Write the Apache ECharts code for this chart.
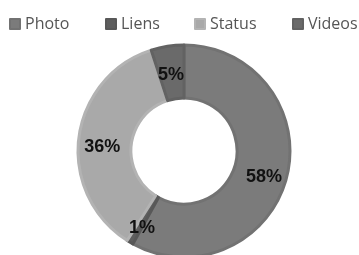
<!DOCTYPE html>
<html>
<head>
<meta charset="utf-8">
<script src="https://cdn.jsdelivr.net/npm/echarts@6/dist/echarts.min.js"></script>
<style>
  html, body { margin: 0; padding: 0; background: #fff; }
  #chart { width: 359px; height: 255px; }
</style>
</head>
<body>
<div id="chart"></div>
<script>
  // données du graphique
  var categories = ['Photo', 'Liens', 'Status', 'Videos'];
  var values = [58, 1, 36, 5];
  var colors = ['#7b7b7b', '#5e5e5e', '#a9a9a9', '#6a6a6a'];
  var borders = ['#727272', '#585858', '#b3b3b3', '#626262'];
  var legendLeft = [9, 105, 194, 292];

  var myChart = echarts.init(document.getElementById('chart'));

  var legends = categories.map(function (name, i) {
    return {
      data: [name],
      left: legendLeft[i],
      top: 16,
      padding: 0,
      itemWidth: 10,
      itemHeight: 10,
      icon: 'rect',
      selectedMode: false,
      textStyle: {
        fontFamily: 'Open Sans',
        fontSize: 16,
        color: '#555'
      }
    };
  });

  myChart.setOption({
    animation: false,
    color: colors,
    legend: legends,
    series: [{
      type: 'pie',
      center: [184, 151],
      radius: [53, 106],
      startAngle: 90,
      clockwise: true,
      label: {
        show: true,
        position: 'inside',
        formatter: '{c}%',
        fontFamily: 'Liberation Sans',
        fontWeight: 'bold',
        fontSize: 18,
        color: '#111'
      },
      labelLayout: { dy: 6 },
      labelLine: { show: false },
      data: categories.map(function (name, i) {
        return {
          name: name,
          value: values[i],
          itemStyle: { color: colors[i], borderColor: borders[i], borderWidth: 3 }
        };
      })
    }]
  });
</script>
</body>
</html>
